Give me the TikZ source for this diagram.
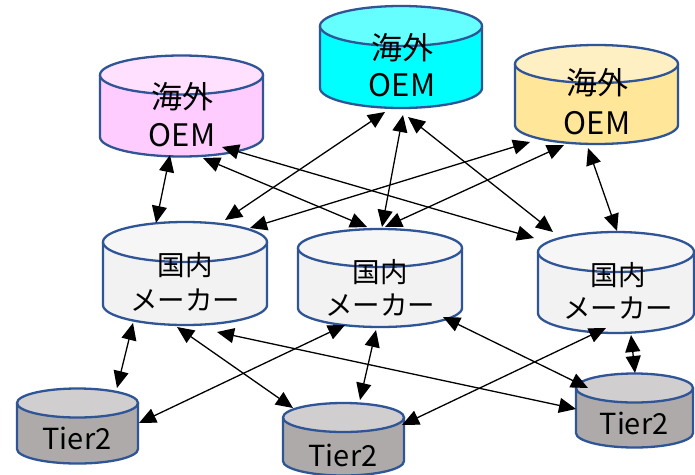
\documentclass[tikz,border=0pt]{standalone}
\usepackage{fontspec}
\setmainfont{Noto Sans CJK JP}
\usetikzlibrary{arrows.meta}
\definecolor{cyledge}{HTML}{2F5597}
\definecolor{pinkbody}{HTML}{FFCCFF}
\definecolor{pinktop}{HTML}{FFE0FF}
\definecolor{cyanbody}{HTML}{00FFFF}
\definecolor{cyantop}{HTML}{66FFFF}
\definecolor{yelbody}{HTML}{FFE699}
\definecolor{yeltop}{HTML}{FFF0C4}
\definecolor{graybody}{HTML}{F2F2F2}
\definecolor{graytop}{HTML}{F6F6F6}
\definecolor{darkbody}{HTML}{AEAAAA}
\definecolor{darktop}{HTML}{D0CECE}
\newcommand\mycyl[8]{%
  \fill[#7] (#2-#5,-#3) -- (#2-#5,-#4) arc[start angle=180,end angle=360,x radius=#5,y radius=#6] -- (#2+#5,-#3) -- cycle;
  \draw[cylline] (#2-#5,-#3) -- (#2-#5,-#4) arc[start angle=180,end angle=360,x radius=#5,y radius=#6] -- (#2+#5,-#3);
  \draw[cylline,fill=#8] (#2,-#3) ellipse[x radius=#5,y radius=#6];
  \coordinate (#1) at (#2,{-(#3+#4)/2});
}
\tikzset{
  cylline/.style={draw=cyledge,line width=2.3pt},
  lbl/.style={inner sep=0pt,anchor=base,text=black},
  oemfont/.style={font=\fontsize{31}{31}\selectfont},
  domfont/.style={font=\fontsize{27.5}{27.5}\selectfont},
  tierfont/.style={font=\fontsize{29}{29}\selectfont},
  link/.style={line width=1.3pt,{Triangle[length=17pt,width=15pt]}-{Triangle[length=17pt,width=15pt]}},
}
\begin{document}
\begin{tikzpicture}[x=1pt,y=1pt]
\fill[white] (0,0) rectangle (695,-474);
\useasboundingbox (0,0) rectangle (695,-474);
% cylinders
\mycyl{oem1}{181.5}{75}{137}{81.5}{19.5}{pinkbody}{pinktop}
\mycyl{oem2}{401}{26}{88}{81}{20}{cyanbody}{cyantop}
\mycyl{oem3}{596.5}{64}{125}{81.5}{19}{yelbody}{yeltop}
\mycyl{dom1}{185}{242}{305}{82}{20}{graybody}{graytop}
\mycyl{dom2}{380}{248}{308}{82}{19}{graybody}{graytop}
\mycyl{dom3}{616}{252}{313}{78}{20}{graybody}{graytop}
\mycyl{tier1}{77.5}{403}{449}{60.5}{14.5}{darkbody}{darktop}
\mycyl{tier2}{343.5}{417.5}{461}{60.5}{14.5}{darkbody}{darktop}
\mycyl{tier3}{634.5}{388}{433}{58.5}{14.5}{darkbody}{darktop}
% labels
\node[lbl,oemfont] (o1a) at (182,-108.5) {海外};
\node[lbl,oemfont] (o1b) at (182,-146.5) {OEM};
\node[lbl,oemfont] (o2a) at (402,-59.5) {海外};
\node[lbl,oemfont] (o2b) at (402,-96.5) {OEM};
\node[lbl,oemfont] (o3a) at (597,-94.5) {海外};
\node[lbl,oemfont] (o3b) at (597,-134.5) {OEM};
\node[lbl,domfont] (d1a) at (185,-275) {国内};
\node[lbl,domfont] (d1b) at (185,-310) {メーカー};
\node[lbl,domfont] (d2a) at (380,-282) {国内};
\node[lbl,domfont] (d2b) at (380,-315) {メーカー};
\node[lbl,domfont] (d3a) at (618,-285) {国内};
\node[lbl,domfont] (d3b) at (618,-318) {メーカー};
\node[lbl,tierfont] (t1a) at (77,-449) {Tier2};
\node[lbl,tierfont] (t2a) at (343,-466) {Tier2};
\node[lbl,tierfont] (t3a) at (634,-434) {Tier2};
% arrow end points
\coordinate (a1s) at (170,-155);  \coordinate (a1e) at (156,-223);
\coordinate (a2s) at (222,-147);  \coordinate (a2e) at (534,-238);
\coordinate (a3s) at (385,-112);  \coordinate (a3e) at (225,-220);
\coordinate (a4s) at (530,-142);  \coordinate (a4e) at (250,-228);
\coordinate (a5s) at (403,-115);  \coordinate (a5e) at (382,-227);
\coordinate (a6s) at (408,-117);  \coordinate (a6e) at (553,-232);
\coordinate (a7s) at (564,-145);  \coordinate (a7e) at (385,-227);
\coordinate (a8s) at (588,-148);  \coordinate (a8e) at (617,-231);
\coordinate (a9s) at (203,-158);  \coordinate (a9e) at (367,-227);
\coordinate (b1s) at (133,-323);  \coordinate (b1e) at (117,-388);
\coordinate (b2s) at (345,-325);  \coordinate (b2e) at (139,-423);
\coordinate (b3s) at (177,-327);  \coordinate (b3e) at (293,-408);
\coordinate (b4s) at (217,-332);  \coordinate (b4e) at (576,-409);
\coordinate (b5s) at (376,-330);  \coordinate (b5e) at (360,-400);
\coordinate (b6s) at (443,-317);  \coordinate (b6e) at (588,-388);
\coordinate (b7s) at (606,-328);  \coordinate (b7e) at (402,-425);
\coordinate (b8s) at (631,-335);  \coordinate (b8e) at (635,-373);
% connectors
\foreach \n in {a1,a2,a3,a4,a5,a6,a7,a8,a9,b1,b2,b3,b4,b5,b6,b7,b8}
  \draw[link] (\n s) -- (\n e);
\end{tikzpicture}
\end{document}
